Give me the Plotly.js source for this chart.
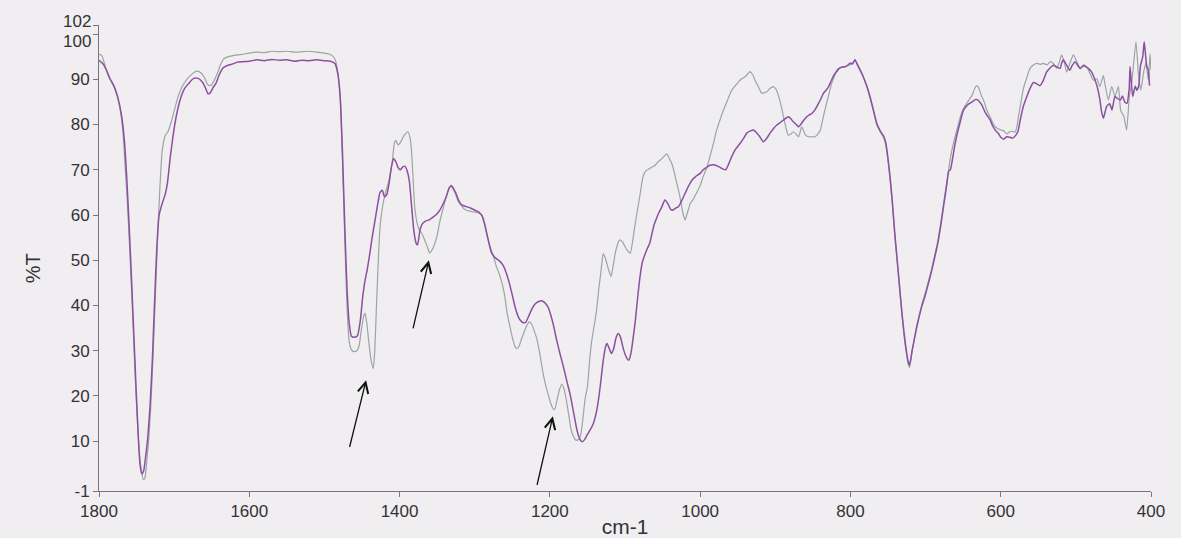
<!DOCTYPE html>
<html>
<head>
<meta charset="utf-8">
<script src="https://cdn.plot.ly/plotly-3.0.1.min.js"></script>
<style>
  html, body { margin: 0; padding: 0; background: #f0eef1; }
  #chart { width: 1181px; height: 538px; }
</style>
</head>
<body>
<div id="chart"></div>
<script>
// Wavenumbers (cm-1) and %T for the purple spectrum
const purpleX = [1800,1795,1790,1785,1780,1775,1770,1766,1763,1760,1757,1754,1751,1748,1745.5,1743,1740.5,1738,1735,1732,1729,1726,1723,1720,1716,1712,1709,1705,1701,1697,1692,1686,1680,1674,1668,1662,1658,1655,1652,1648,1644,1640,1635,1630,1622,1615,1600,1590,1580,1570,1560,1550,1540,1530,1520,1510,1500,1492,1486,1482,1479,1476,1473,1470,1467,1464,1460,1456,1452,1449,1446,1443,1440,1437,1433,1429,1426,1423,1420,1417,1414,1411,1408,1405,1402,1399,1396,1393,1390,1387,1384,1381,1378,1376,1373,1370,1366,1360,1355,1350,1346,1342,1338,1334,1331,1328,1325,1322,1319,1314,1310,1305,1300,1295,1290,1286,1282,1278,1274,1270,1266,1262,1258,1254,1250,1246,1242,1238,1235,1232,1228,1224,1220,1215,1210,1206,1202,1199,1195,1191,1186,1182,1177,1173,1168,1164,1160,1157,1154,1150,1146,1142,1138,1135,1132,1129,1126,1124,1121,1118,1115,1112,1109,1106,1102,1098,1095,1092,1089,1086,1083,1080,1077,1073,1070,1067,1064,1061,1058,1055,1051,1047,1043,1039,1036,1032,1029,1025,1020,1016,1011,1006,1000,996,992,987,982,978,974,970,966,962,958,953,947,942,938,933,929,925,921,916,912,907,902,898,893,889,885,882,879,876,872,869,865,860,856,851,847,843,839,836,832,829,826,822,818,814,810,806,803,800,797,794,791,788,784,780,775,770,765,760,756,753,750,747,744,741,738,735,732,729,726,723,721.5,720,718,715,712,709,705,700,696,692,688,684,680,676,672,669,667,664,661,658,654,650,646,642,638,634,631,628,625,621,618,614,611,607,603,600,596,592,588,584,580,577,574,570,565,561,556.5,552,548,544,539,535,530,525,521,519,516.6,512,508,505,501,498,494,490,486,482,479,476,472,468,466,463.4,459,455,452,448,445,441,438,435,432,429,427.9,424.4,421,419,416.5,414,411,409,405.8,403.5,402,400.4];
const purpleY = [94.2,93.5,92,90,88.5,86,82,76,68,58,47,35,23,12,5,2.8,3.5,6.5,11,18,28,41,53,60,62.5,64.5,67,73,78,82,85.5,88,89.2,90.2,90.2,89.3,88,86.8,87,88.2,89.2,91,92.5,93,93.4,93.8,94,94.3,94.1,94.4,94.2,94.3,94,94.2,94.1,94.3,94.1,94,93.5,91,86,74,58,44,36,33.2,33,33.3,37,42,45.5,48,51,54.5,58.5,62.5,65,65.5,64,64.5,67,70.5,72.5,71.8,70.5,70,70.6,70.8,69.8,67.5,62,56.5,53.8,53.4,56.5,58,58.6,59,59.6,60.3,61.2,62.5,64,66,66.5,65.8,64.8,63.5,62.5,62,61.8,61.5,61.1,60.7,59.8,57.5,54.5,51.8,50.8,50.2,49.7,48.8,47.2,45,42.3,39.5,37.5,36.5,36.2,36.3,37.7,39.2,40.3,40.9,41,40.5,39.5,38,35.5,32.4,29,26.5,23,20.3,16,12.5,10.4,9.9,10.3,11.5,12.6,14,16.5,19.5,23.5,27.8,30.8,31.6,30.5,29.4,30.5,32.8,33.8,33,30.3,28.5,27.9,29.5,33,37,42,46.4,49.5,51.5,52.7,53.8,56,58,59.3,60.5,61.8,63.3,62.5,61.2,61.1,61.6,61.8,63,64.8,66.2,67.7,68.5,69.2,70,70.5,71,71.1,70.9,70.6,70.2,70,71.3,72.9,74.5,75.8,77,78.1,78.6,78.8,78.2,77.4,76.2,76.8,78.1,79.2,79.9,80.5,81,81.5,81.7,81.2,80.6,80,79.5,80.3,81.4,82,82.5,83.3,84.5,85.8,86.9,87.7,88.4,89.5,90.9,91.8,92.5,92.7,92.8,93.2,93.6,93.4,94.3,93.3,92.3,91,89.3,86.8,83.6,80.3,78.5,77.5,76,72.5,68,62.5,56,50.5,45,39.3,34.5,30.5,27.5,26.8,27.8,30,32.5,35,37.2,39.8,42.5,45,47.6,50.5,53.5,57.5,62,66.5,69.8,70,72.5,75.5,77.9,80.5,83,84,84.6,85,85.5,85.5,85,84.3,82.8,82,81,79.8,78.7,78,77.2,76.8,77.3,77.2,77,77.6,78.5,81,84,86.3,88,89.3,89,88.6,89.5,91.6,92.4,93.1,92.7,92.4,93.5,94.3,93,92,93,93.9,93.2,92.4,93,92.7,92.2,91.6,90.5,88.6,85.5,83,81.4,84,84.6,83.2,86.2,85.8,85.4,86.3,85,84.7,88,92.8,86.2,88.5,87.6,88.4,93,95,98.3,93,92,88.6];

// Wavenumbers (cm-1) and %T for the grey spectrum
const greyX = [1800,1796,1792,1787,1782,1777,1772,1768,1765,1762,1759,1756,1753,1750,1747,1744,1741,1739,1737,1734,1731,1728,1725,1722,1719,1716,1712,1708,1704,1700,1695,1689,1683,1676,1670,1665,1660,1656,1653,1650,1646,1642,1638,1634,1628,1620,1610,1600,1590,1580,1570,1560,1550,1540,1530,1520,1510,1500,1492,1486,1482,1479,1476,1473,1470,1467,1464,1461,1457,1454,1451,1448,1446,1443.5,1441,1438,1435,1433,1430.5,1428,1426,1423,1419,1416,1413,1410,1407,1405,1402,1399,1395,1392,1389,1386,1384,1382,1380,1377,1374,1370,1366,1363,1360,1357,1353,1350,1346,1342,1338,1335,1332,1329,1326,1322,1318,1315,1310,1305,1301,1296,1291,1287,1283,1279,1275,1271,1267,1263,1260,1257,1253,1249,1246,1244,1241,1238,1235,1231,1227,1224,1221,1217,1213,1209,1205,1201,1198,1195,1193,1190,1187,1184,1181,1178,1175,1172,1169,1166,1162,1159,1156,1153,1150,1147,1144,1141,1138,1135,1132,1129,1126,1122,1118.6,1116,1113,1110,1107,1103,1100,1096,1093,1090,1087,1084,1080,1076,1072,1068,1064,1060,1056,1052,1048,1044.5,1041,1038,1035,1031,1027,1023,1020,1017,1013,1009,1005,1000,996,991,987,982,978,973,969,964,958,952,947,942,938,934,930,927,922,918,915,911,907,903,899,896,892,889,886,883,880,876,873,869,867,865,862,860,856,852,847,843,840,837,834,829,825,821,818,814,809,805,800,797,794,791,787,783,778,775,770,765,760,756,753,750,747,744,741,738,735,732,729,726,723,721.5,720,718,715,712,709,705,700,696,692,688,684,680,676,672,669,666,662,658,654,650,646,642,638,635,632,629,626,622,618.6,615,611,607,603,600,596,592,588,584,581,578.5,576.5,573,570,566,561,556,552,547,543,538,534,530,525.5,522,518.8,515,512.2,508,503.3,499,494.4,490,487.8,484,481,476.7,472,468,463.4,461,456.8,452.3,447.9,443.4,440.4,436,432.4,428.8,425.7,423.5,420,416.8,413.7,409.3,406.6,403.5,401.3,400];
const greyY = [95.6,95.2,93,90.5,89,87,83.5,78,70,62,52,41,29,18,9,4,1.5,1.8,4.5,10,18,29,42,55,66,74,77.5,78.5,80.5,83,86,88.5,90,91.2,91.8,91.5,90.5,89,88.6,88.8,90,91.5,93.3,94.5,95,95.3,95.5,95.8,96,95.9,96.2,96.1,96.2,96,96.1,96.2,96,95.8,95.5,94.5,91.5,86,72,55,40,32,30.2,29.8,30,31,34.5,37.5,38.3,36,32,28,26.1,30,41,51,57.4,61.5,64.8,66.5,68.5,71.5,75.8,76.5,75.5,76,77.3,78,78.4,77,74,68,62,58.5,56.8,55.8,54.2,53,51.6,52.2,53.7,55.5,58.9,61.5,64,65.5,66.3,65.8,64.8,63,62.2,61.5,61,60.8,60.7,60.5,60,58,55,52.8,50.8,48.5,46.8,44.5,42,38.5,35.3,32.3,30.8,30.5,31,32.5,33.8,35.5,36.4,35.8,34.5,32.4,29,25,22,19.6,18,17,17.3,19.5,21.5,22.6,21.5,19,16,12.8,11.2,10.3,10.3,11.3,15,19.5,22,28,32.5,35.5,38.7,43.5,47.5,51.5,50.4,48,46.4,48.5,51.5,53.5,54.5,54,53,52,51.5,54,57.5,60.5,64.5,68.5,69.8,70.2,70.6,71,71.8,72.3,73,73.5,72.5,71.5,69.8,67,64.1,60.5,58.9,60.5,62.6,63.5,64.8,66.5,68.5,70.5,72.9,76,78.8,81.3,83.2,85.2,87.6,88.8,89.8,90.4,90.9,91.7,91,89.8,88.2,86.9,87,87.3,88,88.4,87.8,86.5,84,81.7,79.5,77.7,77.8,78.4,78,77.3,78.3,79.5,78.5,77.7,77.3,77.3,77.3,78,78.8,81,83.2,86.5,89.1,90.8,92.1,92.5,92.8,93,93.2,93.6,94.3,93.5,92.1,90.5,88.4,86.5,83.4,80,78.3,77.2,75.5,72,67.5,62,55.5,50,44.5,39,34,30,27,26.3,27.5,29.8,32.5,35.3,37.5,40.2,43,45.5,48,51,54,58,62.5,67,70.4,73.5,76.5,79,81.5,83.5,84.5,85.5,86.5,87.8,88.6,88,86.5,85,83.2,82,80.5,79.5,79,78.8,78.6,77.9,78.4,78.5,78.3,79.5,81.7,85,87.8,90,92.4,93.2,93.5,93.3,93.5,93.2,93.9,93.5,92.4,93.8,95.4,93.5,91.6,93.5,95.4,94,92.4,93.2,93.1,92.3,91.2,89.8,90.1,88.4,90.8,88.7,85.4,88.4,86.2,88.4,83.2,81.7,78.8,86.2,89.1,92.8,98.3,91.3,87.6,92,93.5,89.8,95.7,92];

// Axis ticks
const xTicks = [1800, 1600, 1400, 1200, 1000, 800, 600, 400];
const yTicks = [-1, 10, 20, 30, 40, 50, 60, 70, 80, 90, 100, 102];
// The two top labels sit close together; they are drawn as separate labels nudged apart
const yTopLabels = [100, 102];
const yTopShift = [-7.5, 4];

// Arrow annotations: head (x, y) and tail (x, y) in data units
const arrowHeadX = [1444.5, 1361, 1196];
const arrowHeadY = [23.5, 50, 15.5];
const arrowTailX = [1467, 1382.5, 1217.5];
const arrowTailY = [8.4, 34.6, 0];

const fontFamily = 'Liberation Sans, Arial, sans-serif';
const textColor = '#333';

const traces = [
  {
    x: greyX, y: greyY, type: 'scatter', mode: 'lines', name: 'grey',
    line: { color: '#9aa5a6', width: 1.2, shape: 'spline', smoothing: 0.5 },
    hoverinfo: 'x+y'
  },
  {
    x: purpleX, y: purpleY, type: 'scatter', mode: 'lines', name: 'purple',
    line: { color: '#8b50a0', width: 1.5, shape: 'spline', smoothing: 0.5 },
    hoverinfo: 'x+y'
  }
];

const annotations = arrowHeadX.map((hx, i) => ({
  x: hx, y: arrowHeadY[i], xref: 'x', yref: 'y',
  ax: arrowTailX[i], ay: arrowTailY[i], axref: 'x', ayref: 'y',
  text: '', showarrow: true, arrowhead: 5, arrowsize: 1.6, arrowwidth: 1.3,
  arrowcolor: '#111'
}));

yTopLabels.forEach((v, i) => {
  annotations.push({
    x: 0, xref: 'paper', xanchor: 'right', xshift: -7,
    y: v, yref: 'y', yanchor: 'middle', yshift: yTopShift[i],
    text: String(v), showarrow: false, borderpad: 0,
    font: { family: fontFamily, size: 17, color: textColor }
  });
});

annotations.push({
  x: 0, xref: 'paper', xanchor: 'center', xshift: -66,
  y: 0.478, yref: 'paper', yanchor: 'middle',
  text: '%T', textangle: -90, showarrow: false,
  font: { family: fontFamily, size: 20, color: textColor }
});

const axisFont = { family: fontFamily, size: 17, color: textColor };

const layout = {
  width: 1181, height: 538,
  margin: { l: 99, r: 30, t: 25, b: 47, pad: 0 },
  paper_bgcolor: '#f0eef1',
  plot_bgcolor: '#f0eef1',
  showlegend: false,
  xaxis: {
    range: [1800, 400],
    tickvals: xTicks,
    ticktext: xTicks.map(String),
    showline: true, linecolor: '#777', linewidth: 1,
    ticks: 'outside', ticklen: 5, tickcolor: '#777', tickwidth: 1,
    showgrid: false, zeroline: false,
    tickfont: axisFont,
    title: { text: 'cm-1', font: { family: fontFamily, size: 21, color: textColor }, standoff: 2 }
  },
  yaxis: {
    range: [-1, 102],
    tickvals: yTicks,
    ticktext: yTicks.map(v => yTopLabels.includes(v) ? '' : String(v)),
    showline: true, linecolor: '#777', linewidth: 1,
    ticks: 'outside', ticklen: 5, tickcolor: '#777', tickwidth: 1,
    showgrid: false, zeroline: false,
    tickfont: axisFont
  },
  annotations: annotations
};

Plotly.newPlot('chart', traces, layout, { staticPlot: true, displayModeBar: false });
</script>
</body>
</html>
